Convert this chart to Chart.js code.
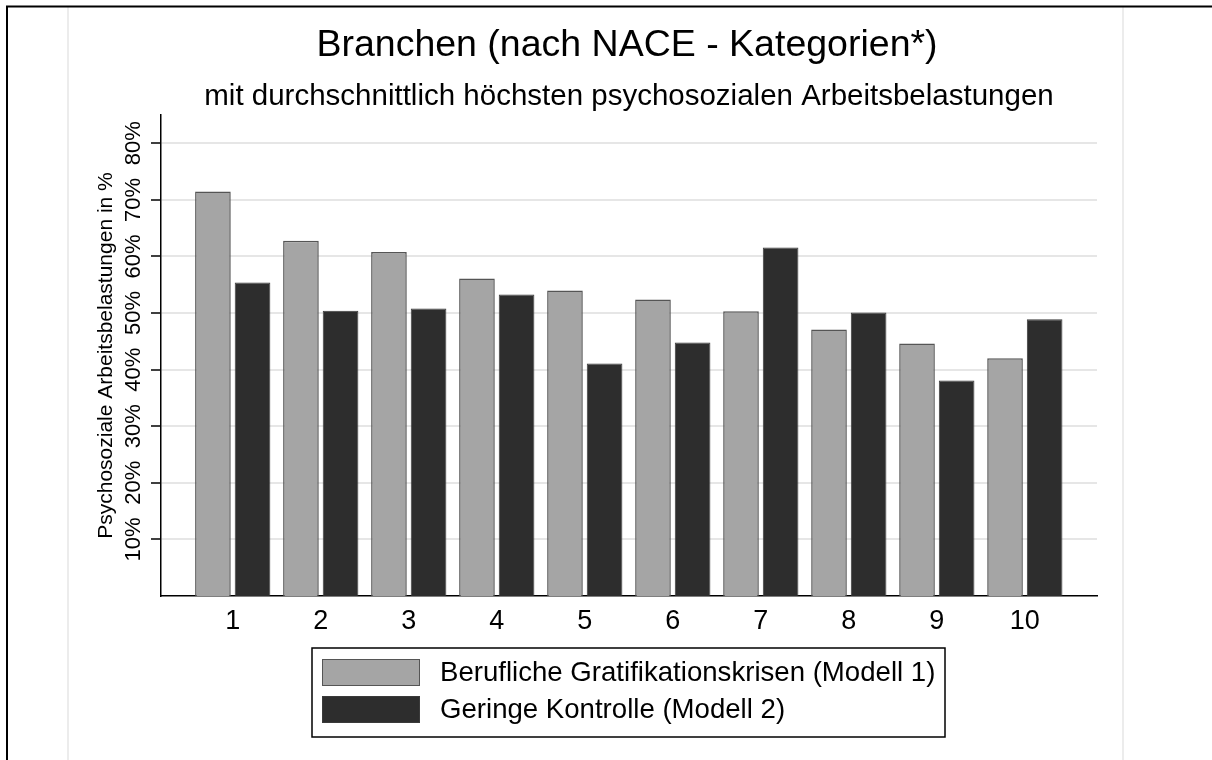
<!DOCTYPE html>
<html>
<head>
<meta charset="utf-8">
<script src="https://cdn.jsdelivr.net/npm/chart.js"></script>
<style>
  html, body { margin: 0; padding: 0; background: #fff; }
</style>
</head>
<body>
<canvas id="chart" width="1212" height="760"></canvas>
<script>
// Daten
const branchen = [1, 2, 3, 4, 5, 6, 7, 8, 9, 10];
const gratifikation = [71.5, 62.8, 60.8, 56.1, 54.0, 52.4, 50.3, 47.1, 44.6, 42.0];
const kontrolle = [55.4, 50.4, 50.8, 53.3, 41.1, 44.8, 61.6, 50.1, 38.1, 48.9];
const yTicks = [10, 20, 30, 40, 50, 60, 70, 80];
const seriesNames = ['Berufliche Gratifikationskrisen (Modell 1)', 'Geringe Kontrolle (Modell 2)'];
const titel = 'Branchen (nach NACE - Kategorien*)';
const untertitel = 'mit durchschnittlich höchsten psychosozialen Arbeitsbelastungen';
const yTitel = 'Psychosoziale Arbeitsbelastungen in %';

const FONT = '"Liberation Sans", Arial, sans-serif';

// Rahmen, Titel, gedrehte y-Beschriftung und Legende
const decor = {
  id: 'decor',
  beforeDraw(chart) {
    const c = chart.ctx;
    c.save();
    c.fillStyle = '#fff';
    c.fillRect(0, 0, chart.width, chart.height);
    c.strokeStyle = '#ececec';
    c.lineWidth = 2;
    c.beginPath();
    c.moveTo(68, 7); c.lineTo(68, 760);
    c.moveTo(1123, 7); c.lineTo(1123, 760);
    c.stroke();
    c.strokeStyle = '#000';
    c.lineWidth = 2;
    c.beginPath();
    c.moveTo(7, 760); c.lineTo(7, 6.5); c.lineTo(1212, 6.5);
    c.stroke();
    c.restore();
  },
  afterDraw(chart) {
    const c = chart.ctx;
    const y = chart.scales.y;
    const a = chart.chartArea;
    const cx = (a.left + a.right) / 2;
    c.save();
    c.fillStyle = '#000';
    c.textAlign = 'center';
    c.textBaseline = 'middle';
    c.font = '37.5px ' + FONT;
    c.fillText(titel, cx - 2, 46);
    c.font = '29.5px ' + FONT;
    c.fillText(untertitel, cx, 97);

    c.font = '22px ' + FONT;
    yTicks.forEach(v => {
      c.save();
      c.translate(134, y.getPixelForValue(v));
      c.rotate(-Math.PI / 2);
      c.fillText(v + '%', 0, 0);
      c.restore();
    });
    c.save();
    c.translate(106, (a.top + a.bottom) / 2);
    c.rotate(-Math.PI / 2);
    c.font = '21px ' + FONT;
    c.fillText(yTitel, 0, 0);
    c.restore();

    // Legende
    c.strokeStyle = '#000';
    c.lineWidth = 1.5;
    c.strokeRect(312, 648, 633, 89);
    c.textAlign = 'left';
    c.font = '27.6px ' + FONT;
    chart.data.datasets.forEach((ds, i) => {
      const top = 659 + i * 37;
      c.fillStyle = ds.backgroundColor;
      c.fillRect(322, top, 98, 27);
      c.strokeStyle = ds.borderColor;
      c.lineWidth = 1;
      c.strokeRect(322.5, top + 0.5, 97, 26);
      c.fillStyle = '#000';
      c.fillText(ds.label, 440, top + 14);
    });
    c.restore();
  }
};

new Chart(document.getElementById('chart').getContext('2d'), {
  type: 'bar',
  data: {
    labels: branchen,
    datasets: [
      { label: seriesNames[0], data: gratifikation, backgroundColor: '#a5a5a5', borderColor: '#555555', borderWidth: 1.5 },
      { label: seriesNames[1], data: kontrolle, backgroundColor: '#2d2d2d', borderColor: '#3a3a3a', borderWidth: 1 }
    ]
  },
  options: {
    responsive: false,
    animation: false,
    categoryPercentage: 0.9,
    barPercentage: 0.9,
    layout: { padding: { left: 0, right: 115, top: 115, bottom: 0 } },
    plugins: {
      legend: { display: false },
      tooltip: { enabled: false },
      title: { display: false }
    },
    scales: {
      x: {
        type: 'linear',
        offset: false,
        min: 0.185,
        max: 10.82,
        afterBuildTicks: s => { s.ticks = branchen.map(v => ({ value: v })); },
        afterFit: s => { s.height = 164; },
        grid: { display: false, drawTicks: false, offset: false },
        border: { display: true, color: '#000', width: 1.5 },
        ticks: { font: { size: 27, family: FONT }, color: '#000', padding: 9 }
      },
      y: {
        min: 0,
        max: 85,
        afterBuildTicks: s => { s.ticks = yTicks.map(v => ({ value: v })); },
        afterFit: s => { s.width = 161; },
        grid: { color: '#e6e6e6', lineWidth: 2, tickColor: '#000', tickLength: 10, tickWidth: 1.5 },
        border: { color: '#000', width: 1.5 },
        ticks: { display: false }
      }
    }
  },
  plugins: [decor]
});
</script>
</body>
</html>
